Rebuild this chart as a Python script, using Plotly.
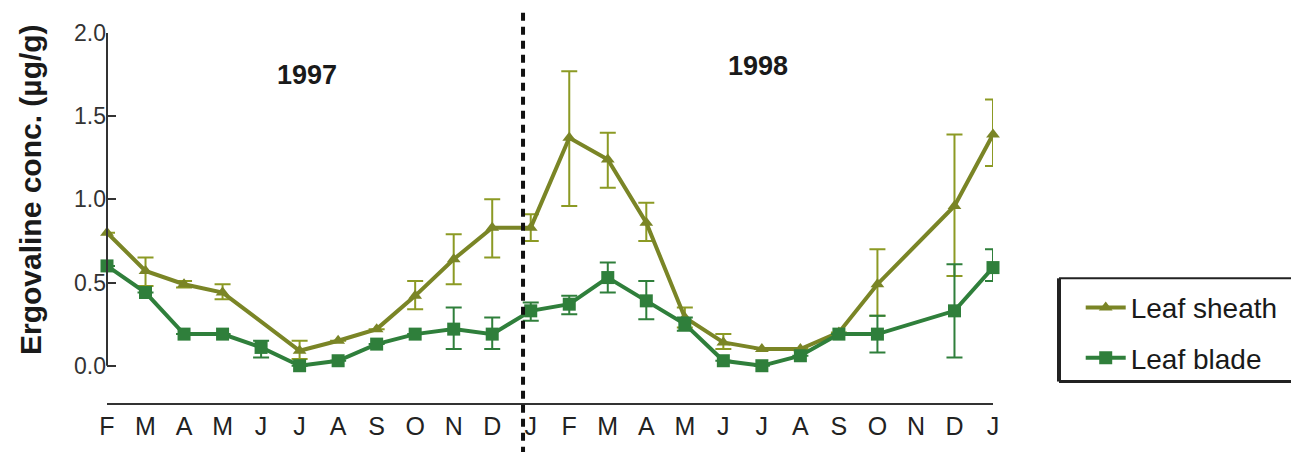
import plotly.graph_objects as go

months = ["F", "M", "A", "M", "J", "J", "A", "S", "O", "N", "D", "J",
          "F", "M", "A", "M", "J", "J", "A", "S", "O", "N", "D", "J"]

sheath = [0.80, 0.57, 0.49, 0.44, None, 0.09, 0.15, 0.22, 0.42, 0.64, 0.83, 0.83,
          1.37, 1.24, 0.86, 0.29, 0.14, 0.10, 0.10, 0.20, 0.49, None, 0.96, 1.39]
sheath_plus = [None, 0.08, 0.02, 0.05, None, 0.06, None, None, 0.09, 0.15, 0.17, 0.08,
               0.40, 0.16, 0.12, 0.06, 0.05, None, None, None, 0.21, None, 0.43, 0.21]
sheath_minus = [None, 0.09, 0.02, 0.04, None, 0.05, None, None, 0.08, 0.15, 0.18, 0.08,
                0.41, 0.17, 0.11, 0.06, 0.04, None, None, None, 0.19, None, 0.42, 0.19]

blade = [0.60, 0.44, 0.19, 0.19, 0.11, 0.00, 0.03, 0.13, 0.19, 0.22, 0.19, 0.33,
         0.37, 0.53, 0.39, 0.25, 0.03, 0.00, 0.06, 0.19, 0.19, None, 0.33, 0.59]
blade_plus = [None, None, None, None, 0.04, None, None, None, None, 0.13, 0.10, 0.05,
              0.05, 0.09, 0.12, 0.04, None, None, None, None, 0.11, None, 0.28, 0.11]
blade_minus = [None, None, None, None, 0.06, None, None, None, None, 0.12, 0.09, 0.06,
               0.06, 0.09, 0.11, 0.04, None, None, None, None, 0.11, None, 0.28, 0.08]

x = list(range(len(months)))
ytick_vals = [0, 0.5, 1.0, 1.5, 2.0]
ytick_text = ["0.0", "0.5", "1.0", "1.5", "2.0"]

SHEATH_C = "#7a8526"
BLADE_C = "#2f7f3b"
FONT = "Liberation Sans, Arial, sans-serif"

fig = go.Figure()
fig.add_trace(go.Scatter(
    x=x, y=sheath, name="Leaf sheath", mode="lines+markers", legendgroup="s",
    connectgaps=True, cliponaxis=False,
    line=dict(color=SHEATH_C, width=4),
    marker=dict(symbol="triangle-up", size=12, color=SHEATH_C),
    error_y=dict(type="data", symmetric=False, array=sheath_plus,
                 arrayminus=sheath_minus, color="#8c9a24", thickness=2, width=8),
))
fig.add_trace(go.Scatter(
    x=x, y=blade, name="Leaf blade", mode="lines+markers", legendgroup="b",
    connectgaps=True, cliponaxis=False,
    line=dict(color=BLADE_C, width=4),
    marker=dict(symbol="square", size=13, color=BLADE_C),
    error_y=dict(type="data", symmetric=False, array=blade_plus,
                 arrayminus=blade_minus, color=BLADE_C, thickness=2, width=8),
))

# y-axis line from 0 to 2
fig.add_shape(type="line", xref="paper", yref="y", x0=0, x1=0, y0=0, y1=2.0,
              line=dict(color="#333333", width=2))
# dashed separator between years
fig.add_shape(type="line", xref="x", yref="paper", x0=10.8, x1=10.8, y0=-0.14, y1=1.07,
              line=dict(color="#111111", width=4, dash="8px,6px"))
# legend frame
fig.add_shape(type="line", xref="paper", yref="paper", x0=1.0745, x1=1.0745, y0=0.058, y1=0.337,
              line=dict(color="#222222", width=4))
fig.add_shape(type="line", xref="paper", yref="paper", x0=1.0745, x1=1.4, y0=0.337, y1=0.337,
              line=dict(color="#222222", width=2))
fig.add_shape(type="line", xref="paper", yref="paper", x0=1.0745, x1=1.4, y0=0.058, y1=0.058,
              line=dict(color="#222222", width=3))

fig.add_annotation(x=5.2, y=1.75, xref="x", yref="y", text="<b>1997</b>", showarrow=False,
                   font=dict(family=FONT, size=27, color="#1a1a1a"))
fig.add_annotation(x=16.9, y=1.80, xref="x", yref="y", text="<b>1998</b>", showarrow=False,
                   font=dict(family=FONT, size=27, color="#1a1a1a"))
fig.add_annotation(x=-0.087, y=0.578, xref="paper", yref="paper", xanchor="center",
                   yanchor="middle",
                   text="<b>Ergovaline conc. (µg/g)</b>", textangle=-90, showarrow=False,
                   font=dict(family=FONT, size=30, color="#1a1a1a"))

# page body has an 8px default margin, so the figure is sized/offset to compensate
fig.update_layout(
    width=1291, height=444,
    margin=dict(l=99, r=306, t=25, b=42),
    paper_bgcolor="white", plot_bgcolor="white",
    showlegend=True,
    legend=dict(x=1.099, y=0.325, xanchor="left", yanchor="top",
                font=dict(family=FONT, size=28, color="#1a1a1a"),
                bgcolor="rgba(0,0,0,0)", traceorder="grouped", tracegroupgap=11,
                itemwidth=40),
    xaxis=dict(range=[0, 23], tickmode="array", tickvals=x, ticktext=months,
               showgrid=False, zeroline=False, showline=True, linecolor="#333333",
               linewidth=2, ticks="", tickfont=dict(family=FONT, size=25, color="#222222")),
    yaxis=dict(range=[-0.224, 2.0], tickmode="array", tickvals=ytick_vals, ticktext=ytick_text,
               showgrid=False, zeroline=False, showline=False, ticks="inside", ticklen=9,
               tickwidth=2, tickcolor="#333333",
               tickfont=dict(family=FONT, size=23, color="#333333")),
)

fig.write_html("out.html", config={"displayModeBar": False})
